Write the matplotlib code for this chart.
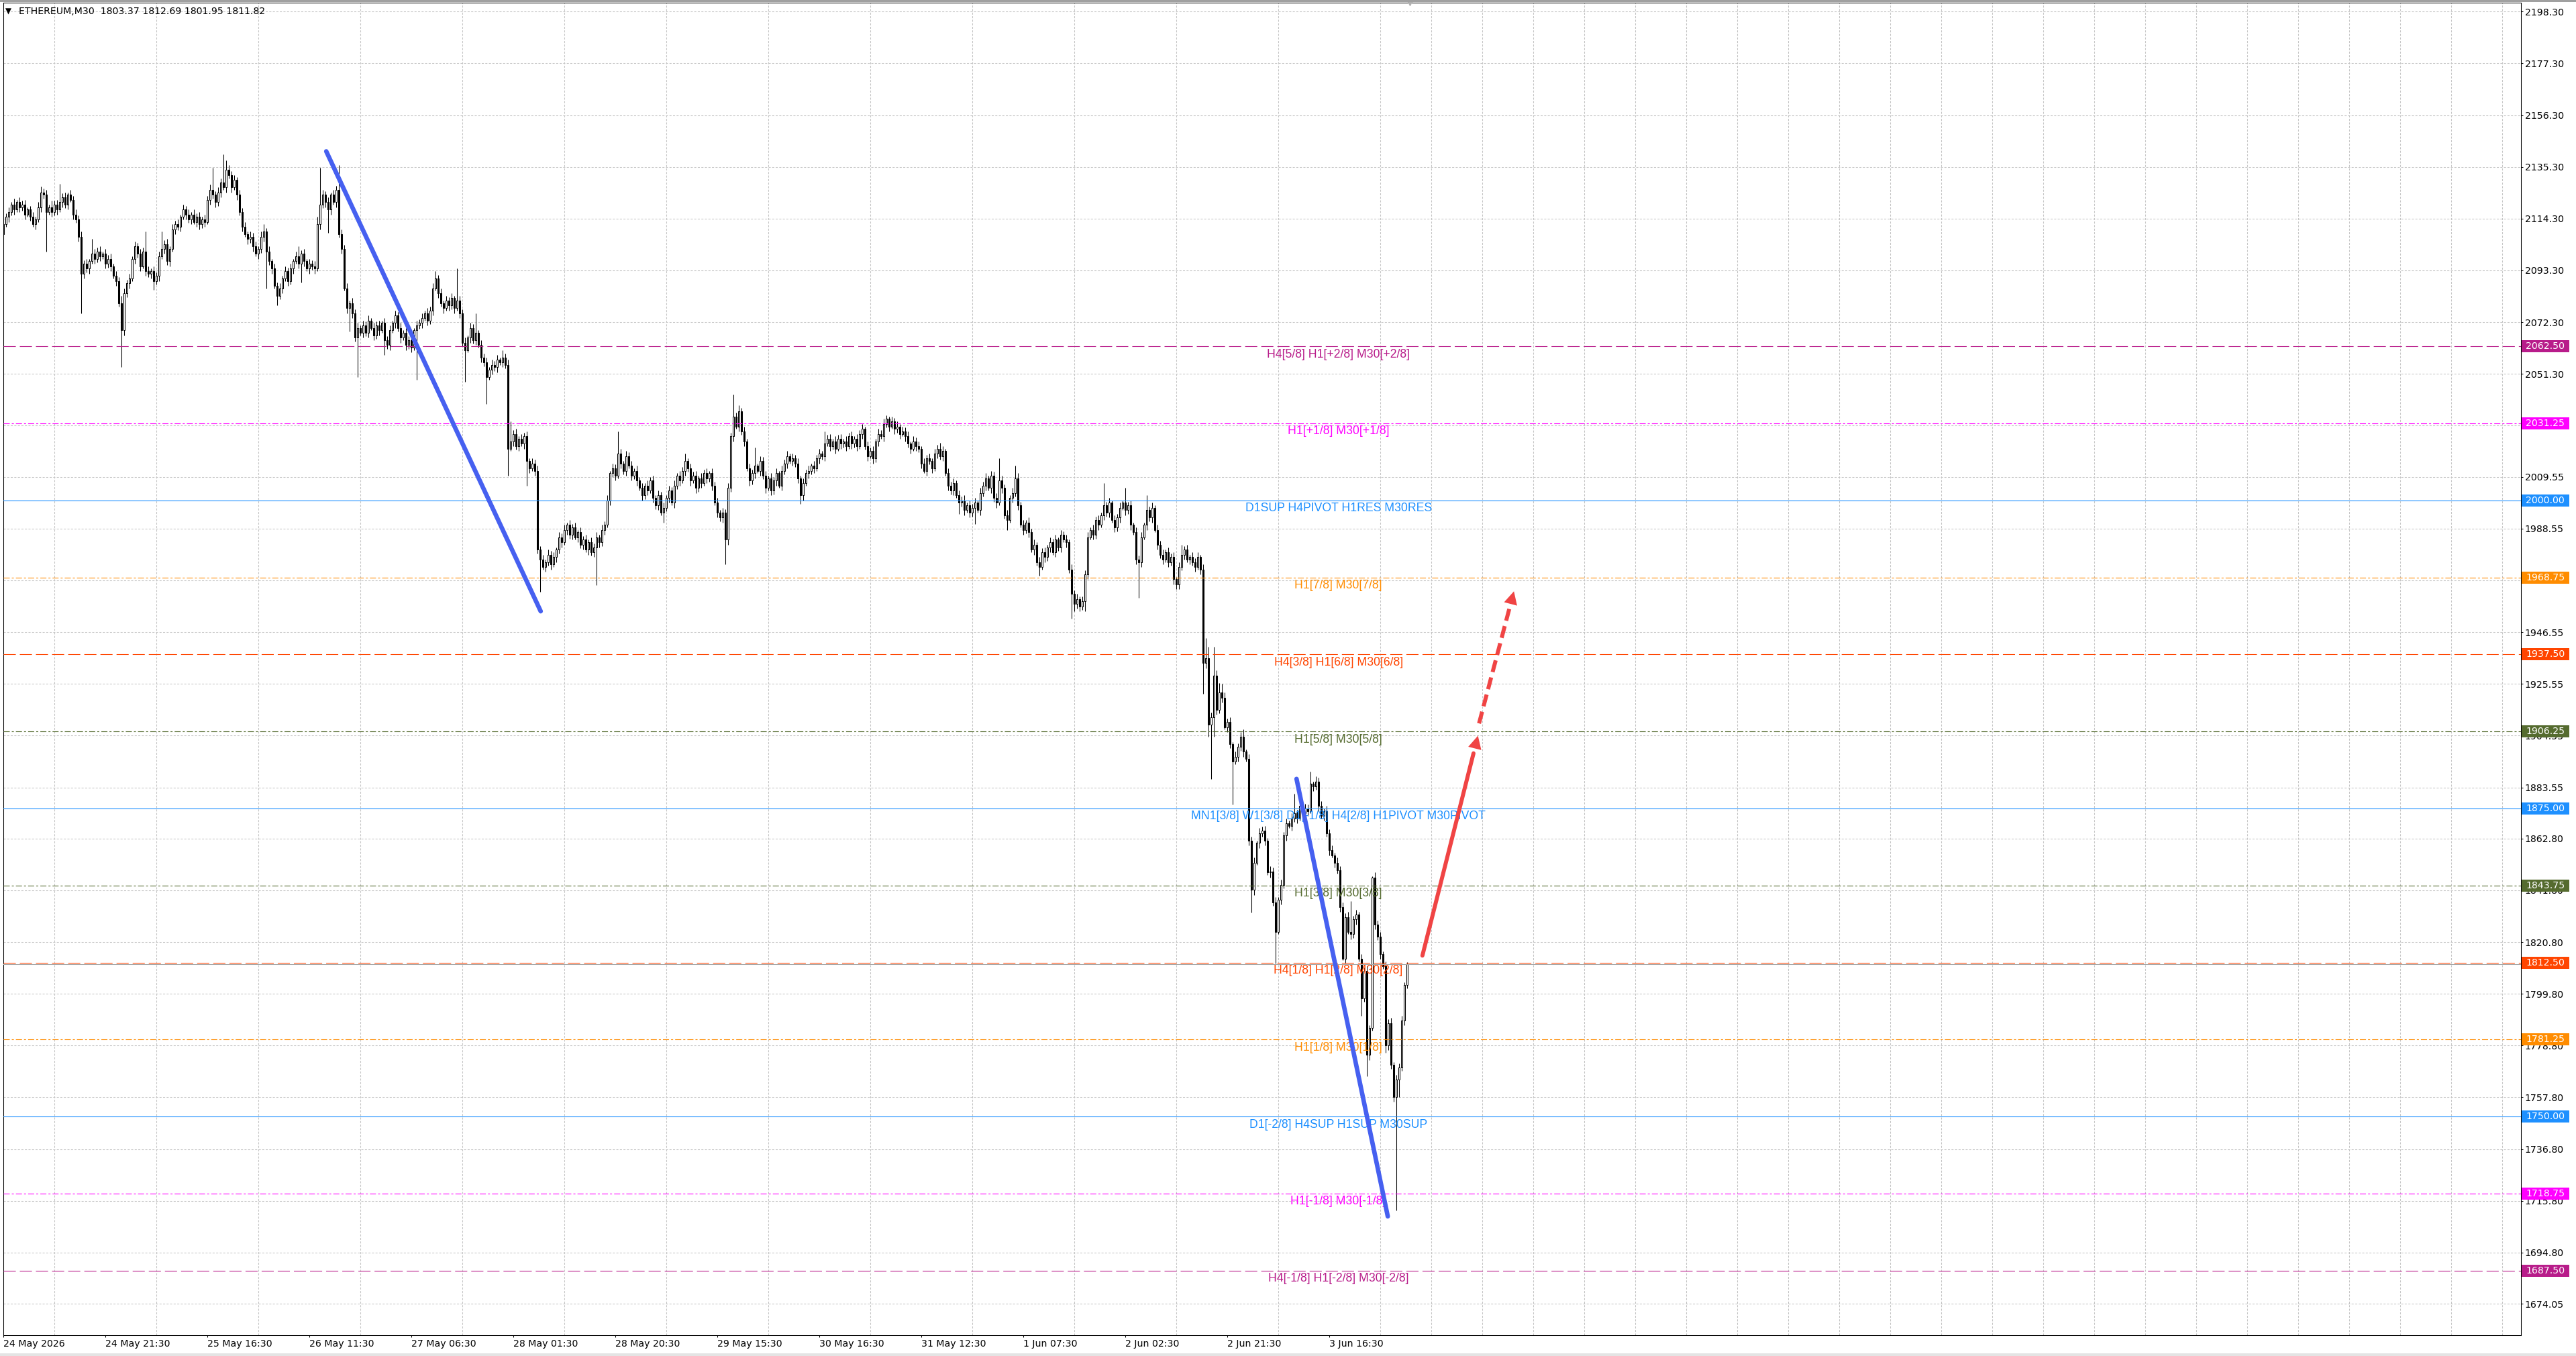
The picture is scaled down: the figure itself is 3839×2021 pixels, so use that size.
import matplotlib
matplotlib.use("Agg")
import matplotlib.pyplot as plt
import matplotlib.transforms as mtransforms
from matplotlib.patches import Rectangle
import numpy as np

plt.rcParams['lines.scale_dashes'] = False
plt.rcParams['font.family'] = ['DejaVu Sans']

# ETHEREUM M30 candles (bar 0 = 24 May 02:30)
first_open = 2108.0
closes = [
    2112, 2115, 2117, 2120, 2118, 2121, 2119, 2120, 2116, 2118,
    2115, 2112, 2114, 2119, 2125, 2124, 2117, 2119, 2117, 2120,
    2118, 2121, 2123, 2120, 2124, 2122, 2116, 2114, 2107, 2092,
    2096, 2094, 2097, 2100, 2098, 2101, 2099, 2100, 2096, 2098,
    2095, 2091, 2089, 2080, 2069, 2084, 2088, 2090, 2098, 2103,
    2100, 2095, 2101, 2093, 2092, 2093, 2089, 2091, 2099, 2102,
    2104, 2097, 2102, 2110, 2112, 2111, 2115, 2118, 2116, 2114,
    2116, 2113, 2115, 2112, 2114, 2113, 2122, 2126, 2124, 2121,
    2125, 2129, 2127, 2134, 2132, 2127, 2130, 2124, 2117, 2111,
    2108, 2106, 2107, 2103, 2100, 2102, 2107, 2109, 2101, 2097,
    2094, 2087, 2083, 2086, 2090, 2093, 2089, 2094, 2097, 2099,
    2096, 2100, 2097, 2094, 2096, 2095, 2094, 2112, 2120, 2124,
    2121, 2118, 2124, 2121, 2126, 2108, 2102, 2086, 2078, 2080,
    2076, 2066, 2070, 2068, 2071, 2068, 2073, 2070, 2067, 2071,
    2069, 2072, 2065, 2063, 2069, 2072, 2075, 2070, 2066, 2068,
    2063, 2065, 2062, 2069, 2071, 2072, 2074, 2076, 2073, 2077,
    2086, 2090, 2084, 2080, 2078, 2081, 2079, 2082, 2078, 2081,
    2076, 2064, 2061, 2066, 2070, 2065, 2068, 2063, 2058, 2056,
    2050, 2053, 2055, 2054, 2057, 2056, 2058, 2055, 2021, 2024,
    2027, 2022, 2025, 2023, 2026, 2016, 2013, 2015, 2012, 1980,
    1976, 1973, 1975, 1978, 1974, 1977, 1980, 1985, 1983, 1988,
    1990, 1986, 1989, 1985, 1987, 1982, 1984, 1980, 1983, 1979,
    1981, 1985, 1983, 1988, 1990, 2000, 2011, 2013, 2010, 2019,
    2015, 2012, 2018, 2014, 2010, 2012, 2008, 2005, 2002, 2006,
    2004, 2008, 2001, 1998, 2002, 1995, 1997, 2001, 2004, 1999,
    2006, 2010, 2008, 2012, 2016, 2013, 2008, 2010, 2005, 2009,
    2007, 2011, 2009, 2011, 2006, 1999, 1995, 1993, 1995, 1984,
    2005, 2026, 2034, 2030, 2036, 2028, 2024, 2013, 2008, 2011,
    2014, 2012, 2016, 2010, 2005, 2009, 2004, 2008, 2011, 2006,
    2012, 2015, 2018, 2016, 2017, 2015, 2009, 2002, 2007, 2011,
    2012, 2014, 2013, 2017, 2019, 2018, 2023, 2025, 2022, 2024,
    2021, 2025, 2023, 2024, 2022, 2026, 2023, 2025, 2022, 2027,
    2029, 2022, 2018, 2020, 2017, 2024, 2027, 2026, 2031, 2033,
    2030, 2032, 2029, 2030, 2027, 2028, 2026, 2023, 2021, 2024,
    2022, 2021, 2015, 2012, 2017, 2016, 2013, 2019, 2021, 2018,
    2020, 2011, 2006, 2004, 2007, 2002, 1999, 2000, 1996, 1998,
    1995, 1997, 1999, 1996, 2003, 2006, 2009, 2005, 2010, 2001,
    1999, 2008, 2005, 1994, 1992, 2001, 2003, 2009, 1998, 1990,
    1988, 1991, 1987, 1980, 1982, 1975, 1973, 1979, 1977, 1981,
    1983, 1979, 1984, 1981, 1986, 1984, 1983, 1972, 1962, 1958,
    1960, 1957, 1959, 1970, 1985, 1988, 1986, 1992, 1990, 1994,
    1998, 1995, 1999, 1992, 1989, 1993, 1997, 1999, 1996, 1998,
    1990, 1987, 1976, 1975, 1985, 1990, 1996, 1993, 1997, 1988,
    1982, 1978, 1976, 1979, 1975, 1977, 1968, 1966, 1973, 1978,
    1980, 1976, 1977, 1975, 1973, 1977, 1972, 1934, 1936, 1909,
    1912, 1929, 1915, 1922, 1920, 1908, 1910, 1901, 1894, 1896,
    1900, 1904, 1898, 1895, 1862, 1842, 1853, 1861, 1865, 1866,
    1862, 1849, 1849.5, 1837, 1825, 1838, 1844, 1864, 1869, 1868,
    1871, 1873, 1871, 1876, 1873, 1875, 1874, 1885, 1884, 1886,
    1876, 1872, 1874, 1865, 1858, 1856, 1853, 1850, 1835, 1814,
    1831, 1825, 1824, 1830, 1832, 1814, 1798, 1809, 1775, 1786,
    1847, 1828, 1823, 1816, 1811, 1779, 1788, 1771, 1758, 1765,
    1770, 1789, 1803.37, 1811.82,
]
# wick lengths above / below the body
wick_up = [
    2, 1.5, 2, 1, 2.5, 1, 2, 1.5, 2, 1,
    1.5, 2, 1, 2, 2.4, 1.5, 2, 1, 2.5, 1.5,
    2, 7.5, 1.5, 2, 1, 2, 1.5, 2, 1.5, 2,
    1.5, 2, 1, 6, 2, 1.5, 2, 1, 2, 1.5,
    2, 1, 2, 1.5, 3, 2, 1.5, 2, 1, 2,
    1.5, 2, 1.5, 8, 2, 1, 2, 1.5, 2, 7,
    1.5, 2, 1, 2, 1.5, 2, 1, 2, 1.5, 2,
    1, 2, 1.5, 2, 1, 2, 1.5, 2, 9, 1.5,
    2, 1.5, 11.4, 4, 2, 1.5, 2, 1, 2, 1.5,
    2, 1, 2, 1.5, 2, 1, 2, 3, 1.5, 2,
    1, 2, 1.5, 2, 1, 2, 1.5, 2, 1, 2,
    4, 1.5, 2, 1, 2, 1.5, 2, 3, 15, 2,
    1.5, 2, 1, 2, 1.5, 10, 2, 1.5, 2, 1,
    2, 1.5, 2, 1, 2, 1.5, 2, 1, 2, 1.5,
    2, 1, 2, 1.5, 2, 1, 2, 1.5, 2, 1,
    2, 1.5, 2, 1, 2, 1.5, 2, 1, 2, 1.5,
    2, 3, 1.5, 2, 1, 2, 1.5, 2, 1, 13,
    2, 1.5, 2, 1, 2, 1.5, 8, 1, 2, 1.5,
    2, 1, 2, 1.5, 2, 1, 3, 1.5, 2, 8,
    1.5, 2, 1, 2, 1.5, 2, 1, 2, 1.5, 2,
    1.5, 2, 1, 2, 1.5, 2, 1, 2, 1.5, 2,
    1, 2, 1.5, 2, 1, 2, 1.5, 2, 1, 2,
    1.5, 2, 1, 2, 1.5, 2, 1, 2, 1.5, 9,
    2, 1, 2, 1.5, 2, 1, 2, 1.5, 2, 1,
    2, 1.5, 2, 1, 2, 1.5, 2, 1, 2, 1.5,
    2, 1, 2, 1.5, 3, 1, 2, 1.5, 2, 1,
    2, 1.5, 2, 1, 2, 1.5, 2, 1, 2, 1.5,
    2, 1.5, 9, 1.5, 2.6, 1.5, 2, 1, 2, 1.5,
    7.5, 1, 2, 1.5, 2, 1, 2, 1.5, 2, 1,
    2, 1.5, 2, 1, 2, 1.5, 2, 1, 2, 1.5,
    2, 1, 2, 1.5, 2, 1, 5, 1.5, 2, 1,
    2, 1.5, 2, 1, 2, 1.5, 2, 1, 2, 1.5,
    2, 1, 2, 1.5, 2, 1, 2, 1.5, 2, 1.5,
    1, 2, 1.5, 2, 1, 2, 1.5, 2, 1, 2,
    1.5, 2, 1, 2, 1.5, 2, 1, 2, 1.5, 2.3,
    2, 1, 2, 1.5, 2, 1, 2, 1.5, 2, 1,
    2, 1.5, 2, 1, 2, 1.5, 2, 1, 2, 1.5,
    2, 9, 2, 1.5, 2, 1, 2, 5, 2, 1.5,
    2, 1, 2, 1.5, 2, 1, 2, 1.5, 2, 1,
    2, 1.5, 2, 1, 2, 1.5, 2, 1, 2, 1.5,
    2, 1, 2, 1.5, 2, 1, 2, 1.5, 2, 1,
    9, 1.5, 2, 1, 2, 1.5, 2, 1, 6, 1.5,
    2, 1, 2, 1.5, 2, 1, 6, 1.5, 2, 1,
    2, 1.5, 2, 1, 2, 1.5, 2, 1, 2, 4,
    1.5, 2, 1, 2, 1.5, 2, 1, 2, 8, 4.7,
    2, 11.7, 2, 4, 3.5, 2, 1.5, 2, 1, 2,
    1.5, 2, 3, 1, 2, 1.5, 2, 1, 2, 1.5,
    2, 1, 2, 1.5, 2, 1, 2, 1.5, 2, 1,
    2, 8, 1.5, 2, 1, 2, 1.5, 5, 1, 2,
    1.5, 2, 1, 2, 1.5, 2, 1, 2, 1.5, 2,
    1.5, 2, 12.5, 1.5, 2, 1, 2, 1.5, 2, 1,
    0.6, 2, 1.5, 2, 1, 2, 1.5, 2, 1, 2,
    1.5, 2, 1, 0.87,
]
wick_dn = [
    2, 1, 2, 1.5, 2, 1, 2, 1.5, 2, 1,
    1.5, 1, 2, 1, 2, 1.5, 16, 1, 2, 1.5,
    2, 1, 2, 1.5, 2, 1, 2, 1.5, 2, 16,
    2, 1.5, 2, 1, 2, 1.5, 2, 1, 2, 1.5,
    2, 1, 2, 1.5, 15, 2, 1.5, 2, 1, 2,
    1.5, 2, 1, 2, 1.5, 2, 3.6, 1.5, 2, 1,
    2, 1.5, 2, 1, 2, 1.5, 2, 1, 2, 1.5,
    2, 1, 2, 2, 1.5, 2, 1, 2, 1.5, 2,
    1.5, 2, 1, 2, 1.5, 2, 1, 2, 1.5, 2,
    1, 2, 1.5, 2, 1, 2, 1.5, 2, 15, 1.5,
    2, 1, 4, 1.5, 2, 1, 2, 1.5, 2, 1,
    2, 7.5, 2, 1, 2, 1.5, 2, 1, 2, 1.5,
    2, 9.5, 2, 1, 2, 1.5, 2, 1, 2, 9.6,
    2, 1.5, 16, 1, 2, 1.5, 2, 1, 2, 1.5,
    2, 1, 6, 1.5, 2, 1, 2, 1.5, 2, 1,
    2, 1.5, 2, 1, 20, 1.5, 2, 1, 2, 1.5,
    2, 1, 2, 1.5, 2, 1, 2, 1.5, 2, 1,
    2, 1.5, 13, 1, 2, 1.5, 2, 1, 2, 1.5,
    11, 1, 2, 1.5, 2, 1, 2, 1.5, 11, 1,
    2, 1.5, 2, 1, 2, 10, 2, 1, 2, 1.5,
    13, 1, 2, 1.5, 2, 1, 2, 1.5, 2, 1,
    2, 1.5, 2, 1, 2, 1.5, 2, 1, 2, 1.5,
    2, 15.5, 2, 1.5, 2, 1, 2, 1.5, 2, 1,
    2, 1.5, 2, 1, 2, 1.5, 2, 1, 2, 1.5,
    2, 1, 2, 1.5, 2, 1, 4, 1.5, 2, 1,
    2, 1.5, 2, 1, 2, 1.5, 2, 1, 2, 1.5,
    2, 1, 2, 1.5, 2, 1, 2, 1.5, 2, 10,
    2, 1.5, 2, 1, 2, 1.5, 2, 1, 2, 1.5,
    2, 1, 2, 1.5, 2, 1, 2, 1.5, 2, 1,
    2, 1.5, 2, 1, 2, 1.5, 2, 3.4, 2, 1,
    2, 1.5, 2, 1, 2, 1.5, 2, 1, 2, 1.5,
    2, 1, 2, 1.5, 2, 1, 2, 1.5, 2, 1,
    2, 1.5, 2, 1, 2, 1.5, 2, 1, 2, 1.5,
    2, 1, 2, 1.5, 2, 1, 2, 1.5, 2, 1,
    2, 1.5, 2, 1, 2, 1.5, 2, 1, 2, 1.5,
    2, 1, 2, 1.5, 2, 1, 4.4, 1.5, 2, 1,
    2, 1.5, 6.5, 1, 2, 1.5, 2, 1, 2, 1.5,
    2, 1, 2, 1.5, 4, 1, 2, 1.5, 2, 1,
    2, 1.5, 2, 1, 2, 1.5, 3.6, 1, 2, 1.5,
    2, 1, 2, 1.5, 2, 1, 2, 1.5, 10, 3,
    2, 2, 1.5, 4, 2, 1, 2, 1.5, 2, 1,
    2, 1.5, 2, 1, 2, 1.5, 2, 1, 2, 1.5,
    2, 1, 2, 14.6, 2, 1, 2, 1.5, 2, 1,
    2, 1.5, 2, 1, 2, 1.5, 2, 2, 2, 1.5,
    2, 1, 2, 1.5, 2, 1, 2, 12.5, 2, 5,
    22, 8, 2, 1.5, 2, 1, 2, 1.5, 17.5, 1,
    2, 1.5, 2, 1, 2, 9.3, 2, 1, 2, 1.5,
    2, 1, 2, 1.5, 13, 1, 2, 1.5, 2, 1,
    2, 1.5, 2, 1, 2, 1.5, 2, 1, 2, 1.5,
    2, 1, 2, 1.5, 2, 1, 2, 1.5, 2, 0.5,
    2, 1, 2, 1.5, 2, 1, 7, 1.5, 8.6, 2,
    1, 2, 1.5, 2, 1, 3, 2, 1.5, 2, 46,
    7, 1.5, 2, 1.42,
]

# Murrey math levels drawn by the indicator
level_prices = [2062.50, 2031.25, 2000.00, 1968.75, 1937.50, 1906.25, 1875.00,
                1843.75, 1812.50, 1781.25, 1750.00, 1718.75, 1687.50]
level_labels = [
    "H4[5/8] H1[+2/8] M30[+2/8]",
    "H1[+1/8] M30[+1/8]",
    "D1SUP H4PIVOT H1RES M30RES",
    "H1[7/8] M30[7/8]",
    "H4[3/8] H1[6/8] M30[6/8]",
    "H1[5/8] M30[5/8]",
    "MN1[3/8] W1[3/8] D1[-1/8] H4[2/8] H1PIVOT M30PIVOT",
    "H1[3/8] M30[3/8]",
    "H4[1/8] H1[2/8] M30[2/8]",
    "H1[1/8] M30[1/8]",
    "D1[-2/8] H4SUP H1SUP M30SUP",
    "H1[-1/8] M30[-1/8]",
    "H4[-1/8] H1[-2/8] M30[-2/8]",
]
level_colors = ['#B81C8A', '#FF00FF', '#1E90FF', '#FF8C00', '#FF4500', '#556B2F', '#1E90FF',
                '#556B2F', '#FF4500', '#FF8C00', '#1E90FF', '#FF00FF', '#B81C8A']
level_kinds = ['dash', 'dashdot', 'solid', 'dashdot', 'dash', 'dashdot', 'solid',
               'dashdot', 'dash', 'dashdot', 'solid', 'dashdot', 'dash']
bid_price = 1811.82

y_ticks = [2198.30, 2177.30, 2156.30, 2135.30, 2114.30, 2093.30, 2072.30, 2051.30,
           2030.30, 2009.55, 1988.55, 1967.55, 1946.55, 1925.55, 1904.55, 1883.55,
           1862.80, 1841.80, 1820.80, 1799.80, 1778.80, 1757.80, 1736.80, 1715.80,
           1694.80, 1674.05]
x_labels = ["24 May 2026", "24 May 21:30", "25 May 16:30", "26 May 11:30", "27 May 06:30",
            "28 May 01:30", "28 May 20:30", "29 May 15:30", "30 May 16:30", "31 May 12:30",
            "1 Jun 07:30", "2 Jun 02:30", "2 Jun 21:30", "3 Jun 16:30"]
bars_per_label = 38

# hand-drawn trend lines and projection arrows (bar index, price)
trend1 = ([120.3, 200.2], [2141.6, 1955.0])
trend2 = ([481.8, 515.8], [1887.0, 1709.5])
arrow_solid = ([528.7, 549.4], [1815.3, 1904.5])
arrow_dash = ([549.8, 562.8], [1909.5, 1963.1])

title = "ETHEREUM,M30  1803.37 1812.69 1801.95 1811.82"

W, H = 3839, 2021
fig = plt.figure(figsize=(W / 100, H / 100), dpi=100)
ax = fig.add_axes([5 / W, 1 - 1990 / H, 3752 / W, 1986 / H])

o = np.array([first_open] + closes[:-1], dtype=float)
c = np.array(closes, dtype=float)
hi = np.maximum(o, c) + np.array(wick_up)
lo = np.minimum(o, c) - np.array(wick_dn)
x = np.arange(len(c))
up = c >= o

ax.vlines(x, lo, hi, color='black', lw=0.75, zorder=2)
ax.bar(x[up], (c - o)[up], bottom=o[up], width=0.55, color='white',
       edgecolor='black', lw=0.75, zorder=2.1)
ax.bar(x[~up], (o - c)[~up], bottom=c[~up], width=0.55, color='black',
       edgecolor='black', lw=0.75, zorder=2.1)

dash_map = {'dash': (0, (13, 4.3)), 'dashdot': (0, (6.5, 2.2, 2.2, 2.2)), 'solid': '-'}
for p, lbl, col, kind in zip(level_prices, level_labels, level_colors, level_kinds):
    ax.axhline(p, color=col, lw=0.8, ls=dash_map[kind], zorder=3)
    ax.annotate(lbl, xy=(497.4, p), xytext=(0, -2.5), textcoords='offset points',
                ha='center', va='top', color=col, fontsize=12.7,
                family=['Liberation Sans', 'DejaVu Sans'], zorder=4)
ax.axhline(bid_price, color='#A8A8A8', lw=0.75, zorder=3)

blue = '#4660F0'
red = '#F04444'
for tx, ty in (trend1, trend2):
    ax.plot(tx, ty, color=blue, lw=4.8, solid_capstyle='round', zorder=5)


def arrow(seg, dashed):
    (x0, x1), (y0, y1) = seg
    f = 0.92 if not dashed else 0.88
    xm, ym = x0 + (x1 - x0) * f, y0 + (y1 - y0) * f
    if dashed:
        ax.plot([x0, xm], [y0, ym], color=red, lw=4.3, ls=(0, (13, 6)),
                dash_capstyle='butt', zorder=5)
    else:
        ax.plot([x0, xm], [y0, ym], color=red, lw=4.3, solid_capstyle='round', zorder=5)
    ax.annotate('', xy=(x1, y1), xytext=(xm, ym),
                arrowprops=dict(arrowstyle='-|>,head_length=0.7,head_width=0.36',
                                mutation_scale=20, color=red, lw=0,
                                shrinkA=0, shrinkB=0), zorder=5)


arrow(arrow_solid, False)
arrow(arrow_dash, True)

ax.set_xlim(0, 938)
ax.set_ylim(1661.3, 2201.9)

# price scale on the right
ax.yaxis.tick_right()
ax.set_yticks(y_ticks)
ax.set_yticklabels([f"{v:.2f}" for v in y_ticks])
ax.tick_params(axis='y', length=2, width=0.75, pad=2.2, labelsize=10.2, colors='black')

ax.set_xticks(np.arange(len(x_labels)) * bars_per_label)
ax.set_xticklabels(x_labels)
for t in ax.get_xticklabels():
    t.set_ha('left')
ax.set_xticks(np.arange(19, 938, 19), minor=True)
ax.tick_params(axis='x', which='major', length=2, width=0.75, pad=2.2, labelsize=10.2)
ax.tick_params(axis='x', which='minor', length=0)

grid_kw = dict(color='#C4C4C4', lw=0.75, ls=(0, (2.2, 1.6)))
ax.grid(which='major', axis='y', **grid_kw)
ax.grid(which='minor', axis='x', **grid_kw)
ax.grid(which='major', axis='x', visible=False)
ax.set_axisbelow(True)
for s in ax.spines.values():
    s.set_linewidth(0.75)
    s.set_color('black')

# coloured price tags on the scale
trans = mtransforms.blended_transform_factory(ax.transAxes, ax.transData)
for p, col in zip(level_prices, level_colors):
    ax.add_patch(Rectangle((1.0003, p - 2.45), 0.0189, 4.9, transform=trans,
                           fc=col, ec='none', clip_on=False, zorder=6))
    ax.text(1.00187, p, f"{p:.2f}", transform=trans, color='white', fontsize=10.2,
            ha='left', va='center', clip_on=False, zorder=7)

# symbol header
ax.annotate('\u25BC', xy=(0, 1), xycoords='axes fraction', xytext=(2.2, -9.4),
            textcoords='offset points', ha='left', va='center', fontsize=8.5)
ax.annotate(title, xy=(0, 1), xycoords='axes fraction', xytext=(16.5, -9.4),
            textcoords='offset points', ha='left', va='center', fontsize=10.2)
ax.plot([524], [2201.9], marker='v', ms=6, color='#B0B0B0', clip_on=False, zorder=6)

fig.add_artist(Rectangle((0, 1 - 3 / H), 1, 3 / H, transform=fig.transFigure,
                         fc='#A0A0A0', ec='none'))
fig.add_artist(Rectangle((0, 0), 1, 4 / H, transform=fig.transFigure,
                         fc='#E4E4E4', ec='none'))

fig.savefig('out.png', dpi=100, facecolor='white')
